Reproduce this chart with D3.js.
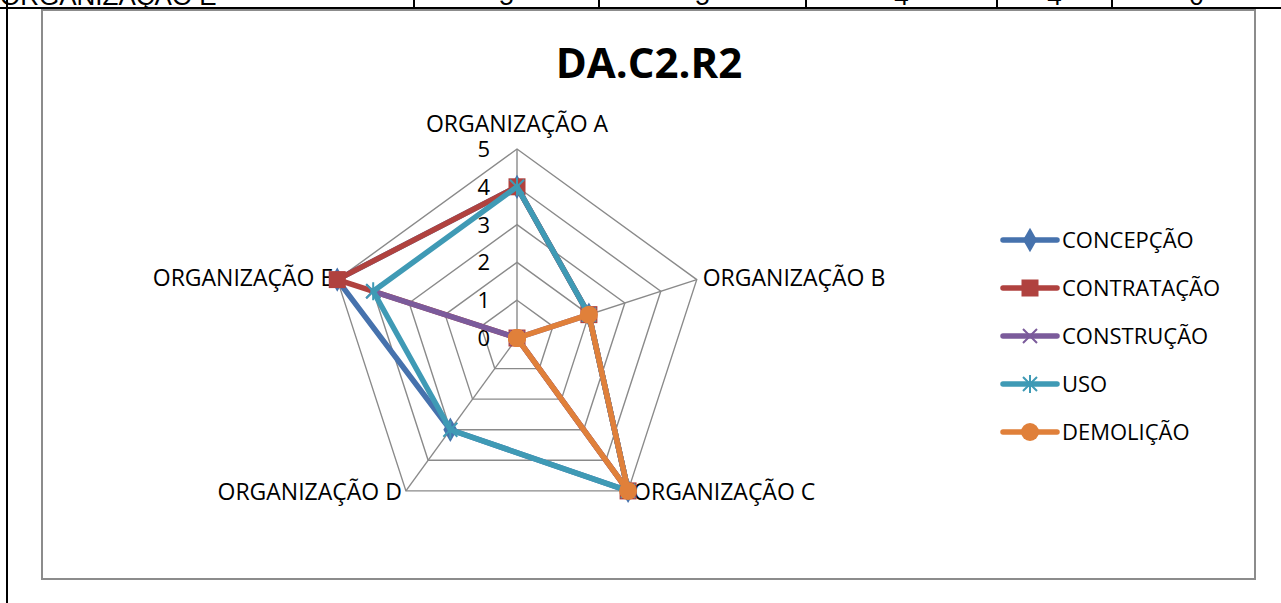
<!DOCTYPE html>
<html>
<head>
<meta charset="utf-8">
<script src="https://cdn.jsdelivr.net/npm/d3@7"></script>
<style>
  body { margin: 0; background: #fff; }
  svg { display: block; }
</style>
</head>
<body>
<svg id="chart"></svg>
<script>
// axes of the radar, in drawing order (clockwise from the top)
const organizations = ["ORGANIZAÇÃO A", "ORGANIZAÇÃO B", "ORGANIZAÇÃO C", "ORGANIZAÇÃO D", "ORGANIZAÇÃO E"];
const seriesNames = ["CONCEPÇÃO", "CONTRATAÇÃO", "CONSTRUÇÃO", "USO", "DEMOLIÇÃO"];
const concepcao   = [4, 2, 5, 3, 5];
const contratacao = [4, 2, 5, 0, 5];
const construcao  = [0, 2, 5, 0, 4];
const uso         = [4, 2, 5, 3, 4];
const demolicao   = [0, 2, 5, 0, 0];
const tickValues = [0, 1, 2, 3, 4, 5];
// the row of the table above the chart, cut by the page edge
const tableRow = ["ORGANIZAÇÃO E", "5", "5", "4", "4", "0"];

const seriesValues = [concepcao, contratacao, construcao, uso, demolicao];
const colors = ["#4672ad", "#b0423f", "#7b5b9b", "#3f9ab5", "#e0803a"];
const markers = ["diamond", "square", "cross", "star", "circle"];

const W = 1281, H = 603;
const svg = d3.select("#chart").attr("width", W).attr("height", H);

// ---- table fragment on top
const tableCols = [7, 414, 599, 806, 997, 1112, 1281];
const tbl = svg.append("g");
tbl.selectAll("text").data(tableRow).join("text")
  .attr("x", (d, i) => i === 0 ? 0 : (tableCols[i] + tableCols[i + 1]) / 2)
  .attr("y", 5)
  .attr("text-anchor", (d, i) => i === 0 ? "start" : "middle")
  .attr("font-family", "Liberation Sans, Arial, sans-serif")
  .attr("font-size", 26)
  .text(d => d);
// white mask so only the bottom of the table text shows
svg.append("rect").attr("x", 0).attr("y", 8).attr("width", W).attr("height", H).attr("fill", "#fff");
tbl.raise();
tbl.append("line").attr("x1", 0).attr("x2", W).attr("y1", 8).attr("y2", 8)
  .attr("stroke", "#000").attr("stroke-width", 2);
tbl.selectAll(".col").data(tableCols.slice(0, -1)).join("line").attr("class", "col")
  .attr("x1", d => d).attr("x2", d => d).attr("y1", 0).attr("y2", d => d === 7 ? H : 8)
  .attr("stroke", "#000").attr("stroke-width", 2);

// ---- chart area frame
svg.append("rect")
  .attr("x", 42).attr("y", 10).attr("width", 1213).attr("height", 569)
  .attr("fill", "#fff").attr("stroke", "#8c8c8c").attr("stroke-width", 2);

svg.append("text")
  .attr("x", 649).attr("y", 78)
  .attr("text-anchor", "middle")
  .attr("font-family", "Open Sans, Lato, sans-serif")
  .attr("font-weight", "bold")
  .attr("font-size", 42)
  .text("DA.C2.R2");

// ---- radar
const cx = 517, cy = 338;
const rScale = d3.scaleLinear().domain([0, 5]).range([0, 189]);
const angle = i => (-90 + 72 * i) * Math.PI / 180;
const pt = (v, i) => [cx + rScale(v) * Math.cos(angle(i)), cy + rScale(v) * Math.sin(angle(i))];

const grid = svg.append("g").attr("fill", "none").attr("stroke", "#8a8a8a").attr("stroke-width", 1.4);
grid.selectAll("polygon").data(tickValues.slice(1)).join("polygon")
  .attr("points", v => organizations.map((o, i) => pt(v, i).join(",")).join(" "));
grid.selectAll("line").data(organizations).join("line")
  .attr("x1", cx).attr("y1", cy)
  .attr("x2", (d, i) => pt(5, i)[0]).attr("y2", (d, i) => pt(5, i)[1]);

const font = "Open Sans, Lato, sans-serif";
const fs = 23;
svg.append("g").selectAll("text").data(tickValues).join("text")
  .attr("x", cx - 27).attr("y", v => cy - rScale(v) + 8)
  .attr("text-anchor", "end")
  .attr("font-family", font).attr("font-size", fs - 1)
  .text(v => v);

const labelPos = [
  {dx: 0, dy: -17, anchor: "middle"},
  {dx: 6, dy: 6, anchor: "start"},
  {dx: 5, dy: 9, anchor: "start"},
  {dx: -4, dy: 9, anchor: "end"},
  {dx: -4, dy: 6, anchor: "end"}
];
svg.append("g").selectAll("text").data(organizations).join("text")
  .attr("x", (d, i) => pt(5, i)[0] + labelPos[i].dx)
  .attr("y", (d, i) => pt(5, i)[1] + labelPos[i].dy)
  .attr("text-anchor", (d, i) => labelPos[i].anchor)
  .attr("font-family", font).attr("font-size", fs)
  .text(d => d);

function drawMarker(g, type, x, y, color) {
  if (type === "diamond") {
    g.append("path").attr("d", d3.symbol(d3.symbolDiamond, 170)()).attr("transform", `translate(${x},${y})`).attr("fill", color);
  } else if (type === "square") {
    g.append("rect").attr("x", x - 8.5).attr("y", y - 8.5).attr("width", 17).attr("height", 17).attr("fill", color);
  } else if (type === "cross") {
    g.append("path").attr("d", `M${x - 7},${y - 7}L${x + 7},${y + 7}M${x - 7},${y + 7}L${x + 7},${y - 7}`)
      .attr("stroke", color).attr("stroke-width", 2);
  } else if (type === "star") {
    g.append("path").attr("d", `M${x - 7},${y - 7}L${x + 7},${y + 7}M${x - 7},${y + 7}L${x + 7},${y - 7}M${x},${y - 9}L${x},${y + 9}`)
      .attr("stroke", color).attr("stroke-width", 2);
  } else {
    g.append("circle").attr("cx", x).attr("cy", y).attr("r", 9).attr("fill", color);
  }
}

const line = d3.line().curve(d3.curveLinearClosed);
seriesValues.forEach((vals, s) => {
  const g = svg.append("g");
  g.append("path")
    .attr("d", line(vals.map((v, i) => pt(v, i))))
    .attr("fill", "none").attr("stroke", colors[s]).attr("stroke-width", 5.5)
    .attr("stroke-linejoin", "round");
  vals.forEach((v, i) => { const p = pt(v, i); drawMarker(g, markers[s], p[0], p[1], colors[s]); });
});

// ---- legend
const legend = svg.append("g");
seriesNames.forEach((name, s) => {
  const y = 240 + s * 48;
  const g = legend.append("g");
  g.append("line").attr("x1", 1003).attr("x2", 1057).attr("y1", y).attr("y2", y)
    .attr("stroke", colors[s]).attr("stroke-width", 5.5).attr("stroke-linecap", "round");
  drawMarker(g, markers[s], 1030, y, colors[s]);
  g.append("text").attr("x", 1062).attr("y", y + 8)
    .attr("font-family", font).attr("font-size", fs - 1).text(name);
});
</script>
</body>
</html>
